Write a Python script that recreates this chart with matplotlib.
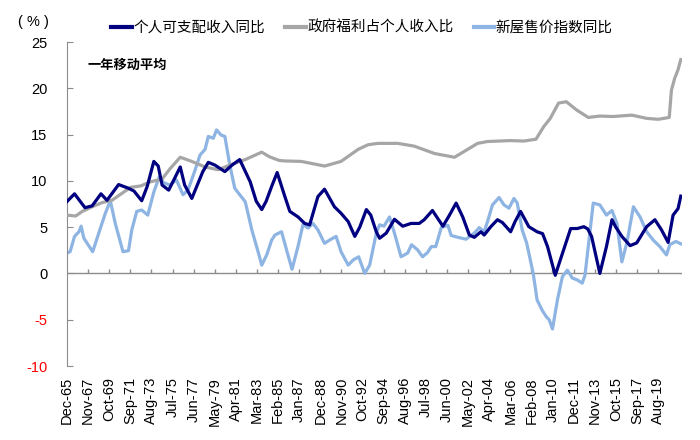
import matplotlib
matplotlib.use('Agg')
import matplotlib.pyplot as plt

plt.rcParams['font.family'] = ['Liberation Sans', 'Noto Sans CJK SC', 'DejaVu Sans']

# dates as decimal years, values in %
inc_t = [1965.9, 1966.6, 1967.55, 1968.2, 1969.0, 1969.55, 1970.6, 1971.5, 1972.0, 1972.7,
         1973.2, 1973.8, 1974.2, 1974.55, 1975.15, 1975.7, 1976.2, 1976.6, 1977.25, 1977.8,
         1978.25, 1978.75, 1979.35, 1980.25, 1980.9, 1981.6, 1982.55, 1983.1, 1983.6, 1984.0,
         1984.5, 1985.0, 1985.7, 1986.15, 1986.9, 1987.5, 1987.95, 1988.7, 1989.3, 1990.2,
         1990.8, 1991.45, 1992.05, 1992.5, 1993.1, 1993.5, 1994.0, 1994.3, 1994.9, 1995.65,
         1996.4, 1997.15, 1997.9, 1998.35, 1999.1, 2000.05, 2000.6, 2001.25, 2001.85, 2002.45,
         2002.9, 2003.5, 2003.8, 2004.4, 2005.0, 2005.45, 2006.2, 2006.6, 2007.1, 2007.85,
         2008.6, 2009.1, 2009.55, 2010.25, 2010.9, 2011.65, 2012.25, 2012.85, 2013.2, 2013.55,
         2014.3, 2014.9, 2015.4, 2015.75, 2016.3, 2017.05, 2017.65, 2018.55, 2019.3, 2019.9,
         2020.5, 2020.95, 2021.4, 2021.65]
inc_v = [7.75, 8.6, 7.1, 7.3, 8.6, 7.9, 9.6, 9.2, 8.9, 7.85,
         9.4, 12.1, 11.6, 9.55, 9.0, 10.3, 11.5, 9.55, 8.1, 9.7,
         11.0, 12.0, 11.7, 11.0, 11.7, 12.3, 9.9, 7.8, 6.9, 7.8,
         9.4, 10.9, 8.3, 6.7, 6.1, 5.4, 5.25, 8.3, 9.1, 7.2,
         6.5, 5.6, 4.0, 5.0, 6.9, 6.3, 4.5, 3.8, 4.35, 5.85,
         5.1, 5.4, 5.4, 5.8, 6.8, 5.1, 6.2, 7.6, 6.1, 4.15,
         3.9, 4.5, 4.15, 5.05, 5.8, 5.5, 4.5, 5.6, 6.7, 5.05,
         4.5, 4.3, 2.9, -0.2, 2.15, 4.85, 4.85, 5.05, 4.8, 4.0,
         0.0, 2.9, 5.8, 5.0, 4.0, 3.0, 3.3, 5.05, 5.8, 4.7,
         3.35, 6.3, 7.0, 8.35]

gov_t = [1965.9, 1966.7, 1967.3, 1968.2, 1969.1, 1970.0, 1970.9, 1971.7, 1972.6, 1973.5,
         1974.55, 1975.3, 1976.2, 1977.25, 1978.45, 1979.65, 1980.9, 1982.1, 1983.6, 1984.3,
         1985.2, 1985.7, 1987.2, 1989.3, 1990.8, 1992.35, 1993.25, 1994.15, 1995.95, 1997.45,
         1999.3, 2001.1, 2002.3, 2003.2, 2004.1, 2006.2, 2007.4, 2008.5, 2009.2, 2009.8,
         2010.55, 2011.25, 2012.2, 2013.25, 2014.3, 2015.5, 2017.2, 2018.55, 2019.6, 2020.6,
         2020.8, 2021.1, 2021.4, 2021.65]
gov_v = [6.3, 6.2, 6.7, 7.2, 7.65, 7.9, 8.65, 9.3, 9.45, 9.9,
         10.2, 11.35, 12.55, 12.1, 11.5, 11.2, 11.8, 12.3, 13.1, 12.6,
         12.2, 12.15, 12.1, 11.6, 12.1, 13.4, 13.9, 14.05, 14.05, 13.75,
         12.95, 12.55, 13.4, 14.05, 14.25, 14.35, 14.3, 14.5, 15.85, 16.75,
         18.4, 18.55, 17.65, 16.85, 17.0, 16.95, 17.1, 16.75, 16.65, 16.85,
         19.8, 21.1, 22.0, 23.1]

hp_t = [1965.9, 1966.2, 1966.6, 1967.0, 1967.2, 1967.45, 1967.75, 1968.25, 1968.8, 1969.4,
        1969.85, 1970.3, 1971.0, 1971.5, 1971.8, 1972.25, 1972.7, 1973.25, 1973.8, 1974.3,
        1974.7, 1975.25, 1975.85, 1976.45, 1976.9, 1977.5, 1978.0, 1978.45, 1978.75, 1979.2,
        1979.5, 1979.9, 1980.25, 1980.7, 1981.15, 1981.6, 1982.1, 1982.7, 1983.3, 1983.6,
        1984.05, 1984.5, 1984.8, 1985.4, 1985.85, 1986.35, 1986.9, 1987.35, 1987.8, 1988.25,
        1988.7, 1989.3, 1989.75, 1990.35, 1990.8, 1991.45, 1991.9, 1992.4, 1992.95, 1993.4,
        1994.0, 1994.3, 1994.7, 1995.2, 1995.65, 1996.25, 1996.85, 1997.2, 1997.75, 1998.2,
        1998.65, 1999.0, 1999.4, 1999.9, 2000.5, 2000.8, 2001.4, 2002.15, 2002.9, 2003.35,
        2003.8, 2004.1, 2004.55, 2005.15, 2005.6, 2006.05, 2006.5, 2006.8, 2007.25, 2007.65,
        2008.25, 2008.6, 2009.05, 2009.45, 2009.7, 2010.0, 2010.45, 2010.9, 2011.35, 2011.8,
        2012.25, 2012.7, 2012.95, 2013.7, 2014.3, 2014.9, 2015.4, 2015.85, 2016.3, 2016.75,
        2017.35, 2017.95, 2018.55, 2019.15, 2019.75, 2020.35, 2020.65, 2021.2, 2021.65]
hp_v = [2.2, 2.35, 4.0, 4.5, 5.1, 3.8, 3.25, 2.35, 4.35, 6.5,
        7.85, 5.4, 2.35, 2.45, 4.7, 6.7, 6.85, 6.3, 8.8, 10.45,
        9.8, 9.55, 10.1, 8.5, 9.0, 11.0, 12.8, 13.4, 14.8, 14.6,
        15.5, 14.95, 14.8, 11.7, 9.2, 8.5, 7.75, 4.7, 2.2, 0.9,
        2.0, 3.6, 4.15, 4.5, 2.55, 0.45, 2.95, 5.3, 4.9, 5.4,
        4.7, 3.25, 3.6, 4.0, 2.35, 0.9, 1.45, 1.8, 0.0, 0.9,
        4.35, 5.25, 5.1, 6.1, 4.35, 1.8, 2.2, 3.1, 2.55, 1.8,
        2.25, 2.9, 2.9, 4.95, 5.2, 4.1, 3.9, 3.7, 4.35, 4.95,
        4.5, 5.6, 7.4, 8.2, 7.4, 7.05, 8.1, 7.6, 4.7, 3.3,
        0.0, -2.85, -3.95, -4.7, -5.0, -6.0, -2.85, -0.35, 0.35, -0.5,
        -0.7, -1.05, -0.2, 7.6, 7.4, 6.3, 6.8, 5.4, 1.25, 3.3,
        7.2, 6.1, 4.5, 3.6, 2.9, 2.0, 3.1, 3.45, 3.2]

x_labels = ['Dec-65', 'Nov-67', 'Oct-69', 'Sep-71', 'Aug-73', 'Jul-75', 'Jun-77', 'May-79',
            'Apr-81', 'Mar-83', 'Feb-85', 'Jan-87', 'Dec-88', 'Nov-90', 'Oct-92', 'Sep-94',
            'Aug-96', 'Jul-98', 'Jun-00', 'May-02', 'Apr-04', 'Mar-06', 'Feb-08', 'Jan-10',
            'Dec-11', 'Nov-13', 'Oct-15', 'Sep-17', 'Aug-19']
y_ticks = [-10, -5, 0, 5, 10, 15, 20, 25]

months = {'Jan': 0, 'Feb': 1, 'Mar': 2, 'Apr': 3, 'May': 4, 'Jun': 5, 'Jul': 6,
          'Aug': 7, 'Sep': 8, 'Oct': 9, 'Nov': 10, 'Dec': 11}
x_pos = []
for lab in x_labels:
    m, yy = lab.split('-')
    yr = int(yy) + (1900 if int(yy) > 50 else 2000)
    x_pos.append(yr + months[m] / 12)

navy = '#000080'
grey = '#A6A6A6'
lblue = '#8DB4E2'
axc = '#8C8C8C'

fig = plt.figure(figsize=(7, 4.4), dpi=100)
ax = fig.add_axes([67 / 700, 1 - 366 / 440, 615 / 700, 324 / 440])

ax.plot(inc_t, inc_v, color=navy, lw=2.3, label='个人可支配收入同比', zorder=4)
ax.plot(gov_t, gov_v, color=grey, lw=2.3, label='政府福利占个人收入比', zorder=3)
ax.plot(hp_t, hp_v, color=lblue, lw=2.3, label='新屋售价指数同比', zorder=2)

ax.set_xlim(x_pos[0], x_pos[0] + 615 / 11.013)
ax.set_ylim(-10, 25)

for s in ['top', 'right', 'bottom']:
    ax.spines[s].set_visible(False)
ax.spines['left'].set_color(axc)
ax.axhline(0, color=axc, lw=1, zorder=1)
ax.vlines(x_pos[1:], 0, 0.5, color=axc, lw=1, zorder=1)

ax.set_xticks(x_pos)
ax.set_xticklabels(x_labels, rotation=90, fontsize=10.5)
ax.tick_params(axis='x', length=0, pad=8)
ax.set_yticks(y_ticks)
ax.set_yticklabels([str(v) for v in y_ticks], fontsize=10.5)
ax.tick_params(axis='y', direction='in', length=4, color=axc, pad=14)
for lab, v in zip(ax.get_yticklabels(), y_ticks):
    if v < 0:
        lab.set_color('#FF0000')

fig.text(18 / 700, 1 - 22 / 440, '( % )', fontsize=10.5, va='center', ha='left')
ax.text((87 - 67) / 615, (366 - 65) / 324, '一年移动平均', transform=ax.transAxes,
        fontsize=9.5, fontweight='bold', family=['Noto Sans CJK SC'], va='center', ha='left')

leg = fig.legend(loc='center', bbox_to_anchor=(0.517, 1 - 28 / 440), ncol=3, frameon=False,
                 handlelength=1.4, handletextpad=0.1, columnspacing=1.4,
                 prop={'family': ['Noto Sans CJK SC'], 'size': 10.5})
for line in leg.get_lines():
    line.set_linewidth(3)

fig.savefig('out.png', dpi=100)
